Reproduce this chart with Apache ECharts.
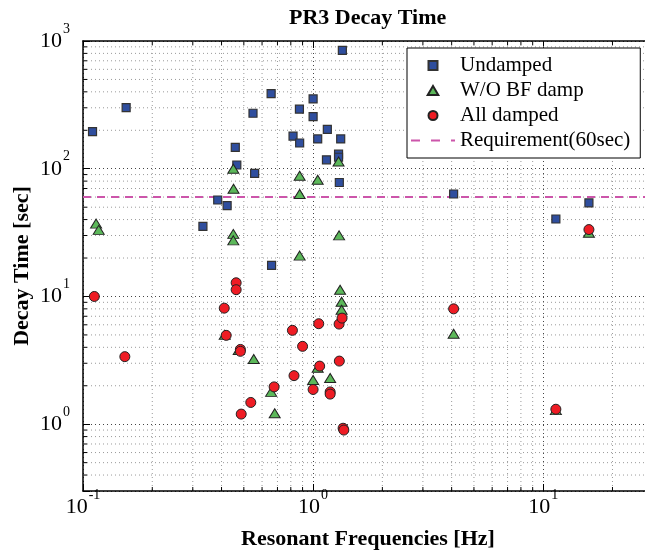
<!DOCTYPE html>
<html><head><meta charset="utf-8">
<script src="https://cdn.jsdelivr.net/npm/echarts@6/dist/echarts.min.js"></script>
<style>html,body{margin:0;padding:0;background:#fff}#c{width:645px;height:554px}</style>
</head><body><div id="c"></div>
<script>
// ---- data ----
const undampedFreq = [0.110, 0.154, 0.332, 0.385, 0.423, 0.459, 0.466, 0.548, 0.557, 0.657, 0.660, 0.818, 0.872, 0.874, 1.00, 1.00, 1.047, 1.143, 1.153, 1.29, 1.29, 1.30, 1.318, 1.34, 4.08, 11.35, 15.8];
const undampedTime = [195, 301, 35.4, 56.9, 51.4, 147, 107, 272, 92, 387, 17.5, 180, 293, 159, 352, 256, 171, 117.5, 203, 130, 123, 78, 171, 846, 63.4, 40.4, 54];

const woBfFreq = [0.114, 0.117, 0.413, 0.450, 0.451, 0.450, 0.450, 0.475, 0.552, 0.657, 0.681, 0.874, 0.874, 0.874, 1.00, 1.047, 1.047, 1.186, 1.29, 1.297, 1.31, 1.33, 1.33, 4.08, 11.35, 15.8];
const woBfTime = [37.2, 33.2, 5.02, 100, 69.8, 30.9, 27.5, 3.81, 3.24, 1.79, 1.22, 88.2, 63.4, 20.9, 2.22, 82, 2.77, 2.30, 114, 30.1, 11.3, 9.1, 7.87, 5.11, 1.29, 31.5];

const allFreq = [0.112, 0.152, 0.411, 0.419, 0.463, 0.463, 0.483, 0.483, 0.487, 0.536, 0.677, 0.813, 0.826, 0.90, 1.00, 1.058, 1.068, 1.186, 1.186, 1.297, 1.30, 1.336, 1.35, 1.36, 4.08, 11.35, 15.8];
const allTime = [10.0, 3.38, 8.1, 4.96, 12.8, 11.3, 3.85, 3.72, 1.20, 1.48, 1.96, 5.43, 2.40, 4.07, 1.87, 6.12, 2.85, 1.79, 1.72, 6.08, 3.12, 6.77, 0.93, 0.90, 8.0, 1.31, 33.4];

const reqLevel = 60;
const xRange = [0.1, 30];
const yRange = [0.3, 1000];
const xMinorTicks = [0.2, 0.3, 0.4, 0.5, 0.6, 0.7, 0.8, 0.9, 2, 3, 4, 5, 6, 7, 8, 9, 20, 30];
const yMinorTicks = [0.4, 0.5, 0.6, 0.7, 0.8, 0.9, 2, 3, 4, 5, 6, 7, 8, 9, 20, 30, 40, 50, 60, 70, 80, 90, 200, 300, 400, 500, 600, 700, 800, 900];
const seriesNames = ['Undamped', 'W/O BF damp', 'All damped', 'Requirement(60sec)'];

// ---- chart ----
const FONT = "'Liberation Serif','Times New Roman',serif";
const zip = (a, b) => a.map((v, i) => [v, b[i]]);

function powLabel(v) {
  const l = Math.log10(v);
  const e = Math.round(l);
  if (Math.abs(l - e) > 1e-6) return '';
  return '{b|10}{e|' + e + '}';
}
const labelRich = {
  b: { fontFamily: FONT, fontSize: 22, color: '#000', lineHeight: 22, verticalAlign: 'bottom' },
  e: { fontFamily: FONT, fontSize: 14, color: '#000', lineHeight: 14, verticalAlign: 'bottom', padding: [0, 0, 16, 1] }
};

function xMinorItem(params, api) {
  const cs = params.coordSys;
  const x = api.coord([api.value(0), 1])[0];
  const top = cs.y, bot = cs.y + cs.height;
  return { type: 'group', children: [
    { type: 'line', shape: { x1: x, y1: top, x2: x, y2: bot }, style: { stroke: '#9a9a9a', lineWidth: 1, lineDash: [1, 3] } },
    { type: 'line', shape: { x1: x, y1: bot, x2: x, y2: bot - 4 }, style: { stroke: '#000', lineWidth: 1 } },
    { type: 'line', shape: { x1: x, y1: top, x2: x, y2: top + 4 }, style: { stroke: '#000', lineWidth: 1 } }
  ]};
}
function yMinorItem(params, api) {
  const cs = params.coordSys;
  const y = api.coord([1, api.value(1)])[1];
  const left = cs.x, right = cs.x + cs.width;
  return { type: 'group', children: [
    { type: 'line', shape: { x1: left, y1: y, x2: right, y2: y }, style: { stroke: '#9a9a9a', lineWidth: 1, lineDash: [1, 3] } },
    { type: 'line', shape: { x1: left, y1: y, x2: left + 4, y2: y }, style: { stroke: '#000', lineWidth: 1 } }
  ]};
}

const chart = echarts.init(document.getElementById('c'), null, { renderer: 'canvas' });
chart.setOption({
  backgroundColor: '#fff',
  animation: false,
  title: {
    text: 'PR3 Decay Time', left: 289, top: 7, padding: 0,
    textStyle: { fontFamily: FONT, fontSize: 22, fontWeight: 'bold', color: '#000' }
  },
  grid: { left: 83, top: 41, width: 570, height: 450, containLabel: false, outerBoundsMode: 'none' },
  legend: {
    data: [
      { name: seriesNames[0], icon: 'path://M0,0H10V10H0Z' },
      { name: seriesNames[1], icon: 'path://M5,0L10,8.5L0,8.5Z' },
      { name: seriesNames[2], icon: 'circle' },
      { name: seriesNames[3], itemStyle: { color: 'rgba(0,0,0,0)', borderWidth: 0, opacity: 0 },
        lineStyle: { color: '#cc55aa', width: 2, type: [9, 11] } }
    ],
    orient: 'vertical', left: 407, top: 48, symbolKeepAspect: true,
    backgroundColor: '#fff', borderColor: '#000', borderWidth: 1, borderRadius: 0,
    padding: [7, 10, 7, 3], itemGap: 4, itemWidth: 44, itemHeight: 9,
    textStyle: { fontFamily: FONT, fontSize: 21, lineHeight: 21, color: '#000' }
  },
  xAxis: [{
    type: 'log', logBase: 10, min: xRange[0], max: xRange[1],
    name: 'Resonant Frequencies [Hz]', nameLocation: 'middle', nameGap: 37, nameMoveOverlap: false,
    nameTextStyle: { fontFamily: FONT, fontSize: 22, fontWeight: 'bold', color: '#000' },
    axisLine: { show: true, lineStyle: { color: '#000', width: 1.5 } },
    axisTick: { show: true, inside: true, length: 7, lineStyle: { color: '#000' } },
    axisLabel: { formatter: powLabel, rich: labelRich, margin: 5 },
    splitLine: { show: true, lineStyle: { color: '#444', type: [1, 3], width: 1 } }
  }, {
    type: 'log', logBase: 10, min: xRange[0], max: xRange[1], position: 'top',
    axisLine: { show: true, lineStyle: { color: '#000', width: 1.5 } },
    axisTick: { show: true, inside: true, length: 7, lineStyle: { color: '#000' } },
    axisLabel: { show: false }, splitLine: { show: false }
  }],
  yAxis: {
    type: 'log', logBase: 10, min: yRange[0], max: yRange[1],
    name: 'Decay Time [sec]', nameLocation: 'middle', nameGap: 50, nameRotate: 90, nameMoveOverlap: false,
    nameTextStyle: { fontFamily: FONT, fontSize: 22, fontWeight: 'bold', color: '#000' },
    axisLine: { show: true, lineStyle: { color: '#000', width: 1.5 } },
    axisTick: { show: true, inside: true, length: 7, lineStyle: { color: '#000' } },
    axisLabel: { formatter: powLabel, rich: labelRich, margin: 13 },
    splitLine: { show: true, lineStyle: { color: '#444', type: [1, 3], width: 1 } }
  },
  series: [
    { type: 'custom', name: 'xminor', silent: true, z: 1, data: xMinorTicks.map(v => [v, 1]), renderItem: xMinorItem },
    { type: 'custom', name: 'yminor', silent: true, z: 1, data: yMinorTicks.map(v => [1, v]), renderItem: yMinorItem },
    {
      name: seriesNames[3], type: 'line', data: [[xRange[0], reqLevel], [xRange[1], reqLevel]],
      symbol: 'none', z: 3,
      lineStyle: { color: '#cc55aa', width: 2, type: [8, 6] }, itemStyle: { color: '#cc55aa' }
    },
    {
      name: seriesNames[0], type: 'scatter', data: zip(undampedFreq, undampedTime), symbol: 'rect', symbolSize: 8, z: 4,
      itemStyle: { color: '#2f4e9e', borderColor: '#333', borderWidth: 1.2, opacity: 1 }
    },
    {
      name: seriesNames[1], type: 'scatter', data: zip(woBfFreq, woBfTime), symbol: 'triangle', symbolSize: [11, 9], z: 5,
      itemStyle: { color: '#5cb85a', borderColor: '#222', borderWidth: 1, opacity: 1 }
    },
    {
      name: seriesNames[2], type: 'scatter', data: zip(allFreq, allTime), symbol: 'circle', symbolSize: 10, z: 6,
      itemStyle: { color: '#ee1c24', borderColor: '#222', borderWidth: 1, opacity: 1 }
    }
  ]
});
</script></body></html>
